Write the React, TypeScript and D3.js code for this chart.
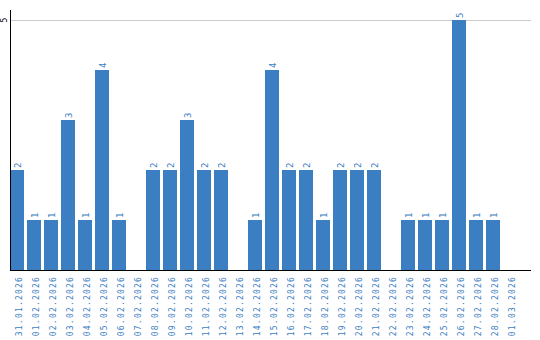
import React from "react";
import * as d3 from "d3";

const categories = [
  "31.01.2026", "01.02.2026", "02.02.2026", "03.02.2026", "04.02.2026", "05.02.2026",
  "06.02.2026", "07.02.2026", "08.02.2026", "09.02.2026", "10.02.2026", "11.02.2026",
  "12.02.2026", "13.02.2026", "14.02.2026", "15.02.2026", "16.02.2026", "17.02.2026",
  "18.02.2026", "19.02.2026", "20.02.2026", "21.02.2026", "22.02.2026", "23.02.2026",
  "24.02.2026", "25.02.2026", "26.02.2026", "27.02.2026", "28.02.2026", "01.03.2026",
];
const values = [2, 1, 1, 3, 1, 4, 1, 0, 2, 2, 3, 2, 2, 0, 1, 4, 2, 2, 1, 2, 2, 2, 0, 1, 1, 1, 5, 1, 1, 0];
const yTicks = [5];

const W = 540;
const H = 340;
const left = 10;
const right = 531;
const top = 20;
const bottom = 270;
const blue = "#3b7ec2";
const font = "'DejaVu Sans Mono', monospace";

export default function App() {
  const x = d3
    .scaleBand<string>()
    .domain(categories)
    .range([left, 517])
    .paddingInner(3 / 17)
    .paddingOuter(0);
  const y = d3.scaleLinear().domain([0, 5]).range([bottom, top]);
  const cx = (c: string) => (x(c) as number) + x.bandwidth() / 2;

  return (
    <svg width={W} height={H} style={{ position: "absolute", left: 0, top: 0 }}>
      {yTicks.map((t) => (
        <g key={t}>
          <line x1={left} x2={right} y1={y(t) + 0.5} y2={y(t) + 0.5} stroke="#cccccc" strokeWidth={1} />
          <text
            transform={`translate(${left - 3},${y(t)}) rotate(-90)`}
            textAnchor="middle"
            fontFamily={font}
            fontSize={8}
            fill="#000"
          >
            {t}
          </text>
        </g>
      ))}
      {categories.map((c, i) =>
        values[i] > 0 ? (
          <g key={c}>
            <rect x={x(c)} y={y(values[i])} width={x.bandwidth()} height={bottom - y(values[i])} fill={blue} />
            <text
              transform={`translate(${cx(c) + 4},${y(values[i]) - 2}) rotate(-90)`}
              textAnchor="start"
              fontFamily={font}
              fontSize={9}
              fill={blue}
            >
              {values[i]}
            </text>
          </g>
        ) : null
      )}
      <line x1={left + 0.5} x2={left + 0.5} y1={10} y2={bottom} stroke="#000" strokeWidth={1} />
      <line x1={left} x2={right} y1={bottom + 0.5} y2={bottom + 0.5} stroke="#000" strokeWidth={1} />
      {categories.map((c) => (
        <text
          key={"t" + c}
          transform={`translate(${cx(c) + 4.5},${bottom + 6}) rotate(-90)`}
          textAnchor="end"
          fontFamily={font}
          fontSize={8}
          letterSpacing={1.2}
          fill={blue}
        >
          {c}
        </text>
      ))}
    </svg>
  );
}
